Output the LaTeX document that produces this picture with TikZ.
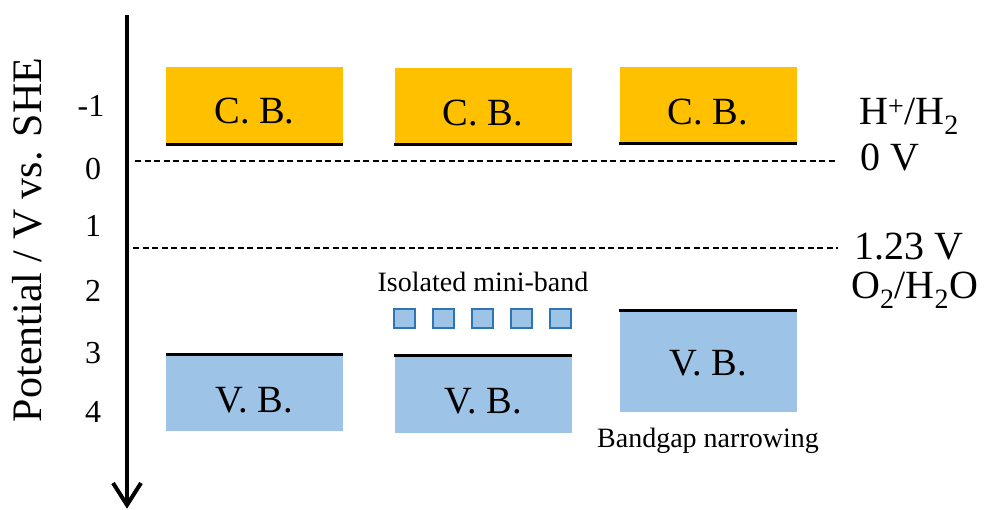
\documentclass[tikz,border=0pt]{standalone}
\usepackage{fontspec}
\setmainfont{Liberation Serif}
\definecolor{cbfill}{HTML}{FFC000}
\definecolor{vbfill}{HTML}{9DC3E6}
\definecolor{miniedge}{HTML}{2E75B6}
\begin{document}
\begin{tikzpicture}[x=1pt,y=-1pt,
  band/.style={draw=none,inner sep=0pt,minimum width=177pt},
  cbbox/.style={band,fill=cbfill},
  vbbox/.style={band,fill=vbfill},
  bandedge/.style={line width=3pt,black},
  bandtext/.style={font=\fontsize{38.5}{38.5}\selectfont,inner sep=0pt},
  ticklbl/.style={font=\fontsize{32}{32}\selectfont,inner sep=0pt,anchor=base},
  redox/.style={font=\fontsize{40}{40}\selectfont,inner sep=0pt,anchor=base west},
  note/.style={font=\fontsize{28}{28}\selectfont,inner sep=0pt},
  level/.style={line width=1.3pt,dash pattern=on 6pt off 3.5pt},
  minisq/.style={draw=miniedge,fill=vbfill,line width=2pt,minimum width=21pt,minimum height=19pt,inner sep=0pt}]
\useasboundingbox (0,0) rectangle (985,510);

% potential axis, pointing down
\coordinate (axtop) at (127,15);
\coordinate (axtip) at (127,505);
\draw[line width=4pt] (axtop) -- (axtip);
\draw[line width=4pt,line join=miter,line cap=butt] (113,483) -- (axtip) -- (141,483);

\node[rotate=90,font=\fontsize{42}{42}\selectfont,inner sep=0pt] (axlbl) at (27,240) {Potential / V vs. SHE};

% tick labels
\node[ticklbl] (tm1) at (91,117) {-1};
\node[ticklbl] (t0) at (93,180) {0};
\node[ticklbl] (t1) at (93,237) {1};
\node[ticklbl] (t2) at (93,302) {2};
\node[ticklbl] (t3) at (93,363) {3};
\node[ticklbl] (t4) at (93,422) {4};

% redox levels
\coordinate (h2l) at (135,161);
\coordinate (h2r) at (838,161);
\coordinate (o2l) at (133,248);
\coordinate (o2r) at (838,248);
\draw[level] (h2l) -- (h2r);
\draw[level] (o2l) -- (o2r);
\node[redox] (hplus) at (859,125) {H\textsuperscript{+}/H\textsubscript{2}};
\node[redox] (zerov) at (860,171) {0 V};
\node[redox] (onetwo) at (854,260) {1.23 V};
\node[redox] (otwo) at (851,299) {O\textsubscript{2}/H\textsubscript{2}O};

% conduction bands
\node[cbbox,minimum height=77pt] (cb1) at (254.5,105.5) {};
\node[cbbox,minimum height=76pt] (cb2) at (483,106) {};
\node[cbbox,minimum height=76pt] (cb3) at (708,105) {};
\foreach \b in {cb1,cb2,cb3}
  \draw[bandedge] (\b.south west) -- (\b.south east);
\node[bandtext] (cb1t) at (254.5,111) {C. B.};
\node[bandtext] (cb2t) at (483,113) {C. B.};
\node[bandtext] (cb3t) at (708,112.5) {C. B.};

% valence bands
\node[vbbox,minimum height=76pt] (vb1) at (254.5,393) {};
\node[vbbox,minimum height=77pt] (vb2) at (483,394.5) {};
\node[vbbox,minimum height=101pt] (vb3) at (708,361) {};
\foreach \b in {vb1,vb2,vb3}
  \draw[bandedge] (\b.north west) -- (\b.north east);
\node[bandtext] (vb1t) at (254.5,400) {V. B.};
\node[bandtext] (vb2t) at (483,401.5) {V. B.};
\node[bandtext] (vb3t) at (708,363.5) {V. B.};

% isolated mini-band
\node[note] (minilbl) at (483,282) {Isolated mini-band};
\node[minisq] (m1) at (404.5,319) {};
\node[minisq] (m2) at (443,319) {};
\node[minisq] (m3) at (482,319) {};
\node[minisq] (m4) at (521.5,319) {};
\node[minisq] (m5) at (560.5,319) {};

\node[note] (narrow) at (708,441) {Bandgap narrowing};
\end{tikzpicture}
\end{document}
